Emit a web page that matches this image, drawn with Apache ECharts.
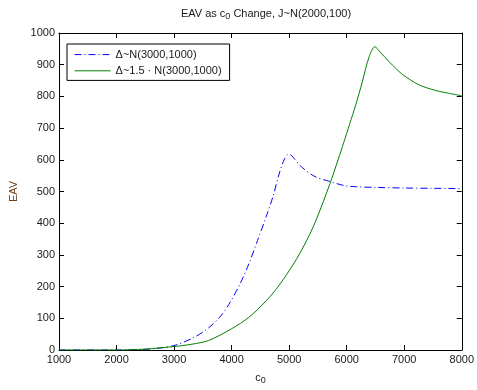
<!DOCTYPE html>
<html>
<head>
<meta charset="utf-8">
<script src="https://cdn.jsdelivr.net/npm/echarts@6/dist/echarts.min.js"></script>
<style>html,body{margin:0;padding:0;background:#fff}#c{width:477px;height:390px}</style>
</head>
<body>
<div id="c"></div>
<script>
// ---- data ----
const seriesNames = ['Δ~N(3000,1000)', 'Δ~1.5 · N(3000,1000)'];
const blueX = [1000, 2000, 2500, 2700, 3000, 3350, 3600, 3800, 3950, 4150, 4300, 4450, 4600, 4720, 4830, 4920, 4990, 5050, 5200, 5450, 5700, 5950, 6150, 6500, 7000, 7500, 8000];
const blueY = [0, 0, 2, 5, 14, 40, 70, 105, 143, 210, 272, 345, 420, 485, 558, 603, 618, 612, 580, 547, 532, 519, 515, 513, 511, 510, 509];
const greenX = [1000, 2000, 2500, 3000, 3300, 3600, 4000, 4300, 4600, 4800, 5000, 5170, 5350, 5480, 5710, 5850, 5950, 6050, 6160, 6270, 6390, 6490, 6560, 6740, 6850, 6970, 7250, 7540, 7770, 8000];
const greenY = [0, 0, 3, 11, 18, 30, 67, 103, 155, 198, 250, 300, 362, 415, 525, 600, 655, 712, 775, 845, 925, 957, 944, 909, 889, 869, 837, 819, 810, 802];
const xTicks = {min: 1000, max: 8000, interval: 1000};
const yTicks = {min: 0, max: 1000, interval: 100};

const pair = (xs, ys) => xs.map((x, i) => [x, ys[i]]);
const font = 'Liberation Sans, Arial, sans-serif';
const txt = '#1a1a1a';

const chart = echarts.init(document.getElementById('c'), null, {renderer: 'canvas'});
const axisCommon = {
  axisLine: {show: true, onZero: false, lineStyle: {color: '#000', width: 1}},
  axisTick: {show: true, inside: true, length: 5, lineStyle: {color: '#000', width: 1}},
  splitLine: {show: false}
};
const plain = v => String(v);
chart.setOption({
  animation: false,
  backgroundColor: '#fff',
  title: {
    text: 'EAV as c{sub|0} Change, J~N(2000,100)',
    left: 261, top: 1, textAlign: 'center',
    textStyle: {fontFamily: font, fontSize: 11, fontWeight: 'normal', color: txt,
      rich: {sub: {fontFamily: font, fontSize: 9, color: txt, verticalAlign: 'bottom', padding: [6, 0, 0, 0]}}}
  },
  grid: {left: 55, right: 11, top: 33, bottom: 39},
  legend: {
    orient: 'vertical', left: 67, top: 44,
    padding: [5, 8, 4, 7], itemGap: 5, itemWidth: 36, itemHeight: 14,
    backgroundColor: '#fff', borderColor: '#000', borderWidth: 1,
    itemStyle: {opacity: 0},
    lineStyle: {width: 1},
    textStyle: {fontFamily: font, fontSize: 11, color: txt},
    data: seriesNames
  },
  xAxis: [
    Object.assign({type: 'value', position: 'bottom', min: xTicks.min, max: xTicks.max, interval: xTicks.interval,
      name: 'c{sub|0}', nameLocation: 'middle', nameGap: 20,
      nameTextStyle: {fontFamily: font, fontSize: 11, color: txt,
        rich: {sub: {fontFamily: font, fontSize: 9, color: txt, verticalAlign: 'bottom', padding: [6, 0, 0, 0]}}},
      axisLabel: {fontFamily: font, fontSize: 11, color: txt, margin: 4, formatter: plain}}, axisCommon),
    Object.assign({type: 'value', position: 'top', min: xTicks.min, max: xTicks.max, interval: xTicks.interval,
      axisLabel: {show: false}}, axisCommon)
  ],
  yAxis: [
    Object.assign({type: 'value', position: 'left', min: yTicks.min, max: yTicks.max, interval: yTicks.interval,
      name: 'EAV', nameLocation: 'middle', nameGap: 40,
      nameTextStyle: {fontFamily: font, fontSize: 11, color: '#6a4222'},
      axisLabel: {fontFamily: font, fontSize: 11, color: txt, margin: 4, formatter: plain}}, axisCommon),
    Object.assign({type: 'value', position: 'right', min: yTicks.min, max: yTicks.max, interval: yTicks.interval,
      axisLabel: {show: false}}, axisCommon)
  ],
  series: [
    {name: seriesNames[0], type: 'line', xAxisIndex: 0, yAxisIndex: 0, showSymbol: false, symbol: 'none',
      smooth: 0.3,
      data: pair(blueX, blueY), color: '#0000ff',
      lineStyle: {color: '#0000ff', width: 1, type: [7, 3, 1, 3]}},
    {name: seriesNames[1], type: 'line', xAxisIndex: 0, yAxisIndex: 0, showSymbol: false, symbol: 'none',
      smooth: 0.3,
      data: pair(greenX, greenY), color: '#008000',
      lineStyle: {color: '#008000', width: 1}}
  ]
});
</script>
</body>
</html>
